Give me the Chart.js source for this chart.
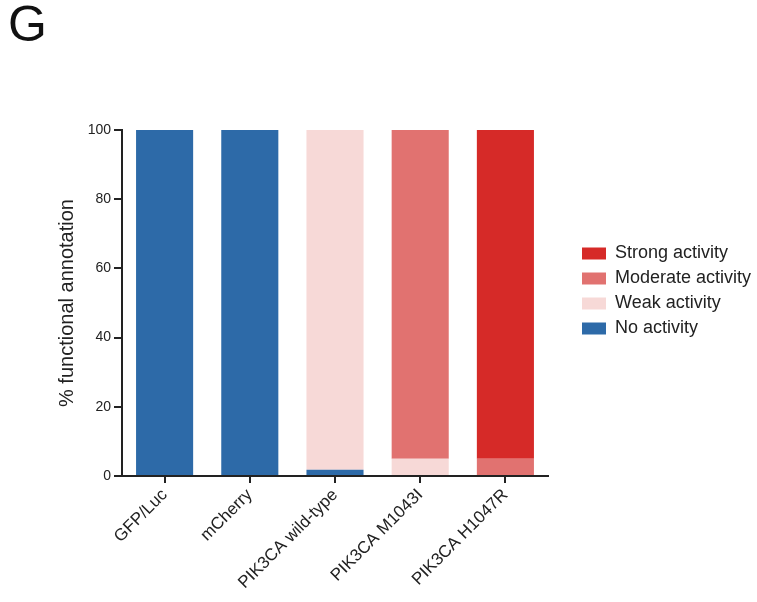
<!DOCTYPE html>
<html>
<head>
<meta charset="utf-8">
<script src="https://cdn.jsdelivr.net/npm/chart.js@4"></script>
<style>
body { margin: 0; background: #fff; }
#wrap { position: relative; width: 757px; height: 602px; }
#panel { position: absolute; left: 8px; top: -5px; font: 50px 'Liberation Sans', Arial, sans-serif; color: #111; }
</style>
</head>
<body>
<div id="wrap">
  <canvas id="myChart"></canvas>
  <div id="panel">G</div>
</div>
<script>
const categories = ['GFP/Luc', 'mCherry', 'PIK3CA wild-type', 'PIK3CA M1043I', 'PIK3CA H1047R'];
const noActivity = [100, 100, 1.8, 0, 0];
const weakActivity = [0, 0, 98.2, 5, 0];
const moderateActivity = [0, 0, 0, 95, 5];
const strongActivity = [0, 0, 0, 0, 95];
const yTicks = [0, 20, 40, 60, 80, 100];

const ink = '#222';
const family = "'Liberation Sans', Arial, sans-serif";

// legend sits a bit above the plot's middle in the original
const legendNudge = {
  id: 'legendNudge',
  afterLayout(chart) {
    chart.legend.top -= 12;
    chart.legend.bottom -= 12;
  }
};

let ctx = document.getElementById('myChart').getContext('2d');

let stackChart = new Chart(ctx, {
  type: 'bar',
  data: {
    labels: categories,
    datasets: [
      { label: 'No activity', data: noActivity, backgroundColor: '#2d6aa8' },
      { label: 'Weak activity', data: weakActivity, backgroundColor: '#f7d9d7' },
      { label: 'Moderate activity', data: moderateActivity, backgroundColor: '#e17270' },
      { label: 'Strong activity', data: strongActivity, backgroundColor: '#d62a28' }
    ]
  },
  options: {
    responsive: true,
    maintainAspectRatio: false,
    animation: false,
    datasets: { bar: { barPercentage: 0.67, categoryPercentage: 1, borderWidth: 0 } },
    layout: { padding: { left: 0, top: 130, right: 0, bottom: 0 } },
    plugins: {
      legend: {
        position: 'right',
        fullSize: false,
        reverse: true,
        maxWidth: 182,
        labels: { boxWidth: 24, boxHeight: 12, padding: 7, color: ink, font: { family: family, size: 18 } }
      },
      tooltip: { enabled: false }
    },
    scales: {
      x: {
        stacked: true,
        grid: { display: true, offset: false, drawOnChartArea: false, drawTicks: true, tickLength: 7, color: ink, lineWidth: 2 },
        border: { color: ink, width: 2 },
        ticks: { color: ink, font: { family: family, size: 17 }, minRotation: 45, maxRotation: 45, padding: 2 },
        afterFit(scale) { scale.height = 126; }
      },
      y: {
        stacked: true,
        min: 0,
        max: 100,
        grid: { drawOnChartArea: false, drawTicks: true, tickLength: 8, color: ink, lineWidth: 2 },
        border: { color: ink, width: 2 },
        ticks: { stepSize: 20, color: ink, font: { family: family, size: 14 }, padding: 3 },
        afterBuildTicks(scale) { scale.ticks = yTicks.map(v => ({ value: v })); },
        title: { display: true, text: '% functional annotation', color: ink, font: { family: family, size: 20 }, padding: { top: 55, bottom: 0 } },
        afterFit(scale) { scale.width = 122; }
      },
      // empty spacer between plot and legend
      spacer: {
        type: 'linear',
        position: 'right',
        grid: { display: false },
        border: { display: false },
        ticks: { display: false },
        afterFit(scale) { scale.width = 27; }
      }
    }
  },
  plugins: [legendNudge]
});
</script>
</body>
</html>
